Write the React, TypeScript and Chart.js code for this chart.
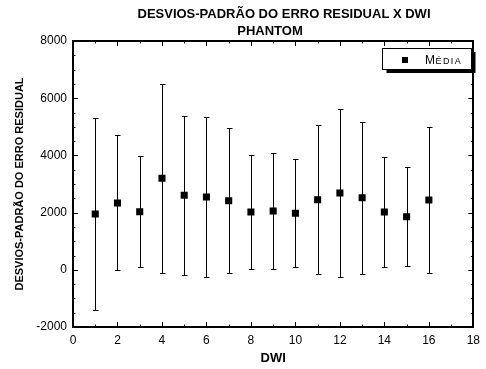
import React, { useEffect, useRef } from "react";
import { Chart, registerables } from "chart.js";

Chart.register(...registerables);

const titleLines = ["DESVIOS-PADRÃO DO ERRO RESIDUAL X DWI", "PHANTOM"];
const xTitle = "DWI";
const yTitle = "DESVIOS-PADRÃO DO ERRO RESIDUAL";
const seriesLabel = "MÉDIA";

const dwi = [1, 2, 3, 4, 5, 6, 7, 8, 9, 10, 11, 12, 13, 14, 15, 16];
const means = [1951, 2336, 2032, 3199, 2604, 2545, 2417, 2021, 2056, 1975, 2451, 2685, 2521, 2021, 1857, 2440];
const sds = [3374, 2360, 1946, 3304, 2780, 2790, 2546, 1999, 2011, 1882, 2600, 2937, 2664, 1935, 1724, 2542];

const xMin = 0;
const xMax = 18;
const xStep = 2;
const xMinor = 1;
const yMin = -2000;
const yMax = 8000;
const yStep = 2000;
const yMinor = 500;

const FONT = "'Liberation Sans', Arial, Helvetica, sans-serif";

const errorBarPlugin = {
  id: "errorBars",
  beforeDatasetsDraw(chart: any) {
    const { ctx, scales } = chart;
    const xs = scales.x;
    const ys = scales.y;
    ctx.save();
    ctx.strokeStyle = "#000";
    ctx.lineWidth = 1;
    dwi.forEach((d, i) => {
      const px = Math.round(xs.getPixelForValue(d)) + 0.5;
      const pTop = Math.round(ys.getPixelForValue(means[i] + sds[i])) + 0.5;
      const pBot = Math.round(ys.getPixelForValue(means[i] - sds[i])) + 0.5;
      ctx.beginPath();
      ctx.moveTo(px, pTop);
      ctx.lineTo(px, pBot);
      ctx.moveTo(px - 2.5, pTop);
      ctx.lineTo(px + 3, pTop);
      ctx.moveTo(px - 2.5, pBot);
      ctx.lineTo(px + 3, pBot);
      ctx.stroke();
    });
    ctx.restore();
  },
};

const framePlugin = {
  id: "frame",
  afterDraw(chart: any) {
    const { ctx, chartArea, scales } = chart;
    const { left, right, top, bottom } = chartArea;
    const xs = scales.x;
    const ys = scales.y;
    ctx.save();
    ctx.strokeStyle = "#000";
    ctx.lineWidth = 1;
    ctx.beginPath();
    for (let v = xMin; v <= xMax; v += xMinor) {
      const px = Math.round(xs.getPixelForValue(v)) + 0.5;
      const len = v % xStep === 0 ? 5 : 2.5;
      ctx.moveTo(px, bottom);
      ctx.lineTo(px, bottom - len);
      ctx.moveTo(px, top);
      ctx.lineTo(px, top + len);
    }
    for (let v = yMin; v <= yMax; v += yMinor) {
      const py = Math.round(ys.getPixelForValue(v)) + 0.5;
      const len = v % yStep === 0 ? 5 : 2.5;
      ctx.moveTo(left, py);
      ctx.lineTo(left + len, py);
      ctx.moveTo(right, py);
      ctx.lineTo(right - len, py);
    }
    ctx.stroke();
    ctx.lineWidth = 2;
    ctx.strokeRect(Math.round(left), Math.round(top), Math.round(right - left), Math.round(bottom - top));

    // legend
    const lx = 382;
    const ly = 48;
    const lw = 89;
    const lh = 21;
    ctx.fillStyle = "#000";
    ctx.fillRect(lx + 4.5, ly + 4, lw, lh);
    ctx.fillStyle = "#fff";
    ctx.fillRect(lx, ly, lw, lh);
    ctx.lineWidth = 1;
    ctx.strokeStyle = "#000";
    ctx.strokeRect(lx + 0.5, ly + 0.5, lw, lh);
    ctx.fillStyle = "#000";
    ctx.fillRect(lx + 20, ly + 9, 6, 6);
    const label = chart.data.datasets[0].label as string;
    ctx.textBaseline = "alphabetic";
    ctx.textAlign = "left";
    ctx.font = `12px ${FONT}`;
    const first = label.charAt(0);
    ctx.fillText(first, lx + 43, ly + 15.5);
    const w1 = ctx.measureText(first).width;
    ctx.font = `9px ${FONT}`;
    (ctx as any).letterSpacing = "1.4px";
    ctx.fillText(label.slice(1), lx + 43 + w1 + 0.5, ly + 15.5);
    (ctx as any).letterSpacing = "0px";

    // title
    ctx.font = `bold 13px ${FONT}`;
    ctx.textAlign = "center";
    ctx.textBaseline = "middle";
    ctx.fillText(titleLines[0], 284, 14.5);
    ctx.fillText(titleLines[1], 270, 31);
    ctx.restore();
  },
};

export default function App() {
  const ref = useRef<HTMLCanvasElement | null>(null);
  useEffect(() => {
    if (!ref.current) return;
    const chart = new Chart(ref.current, {
      type: "scatter",
      data: {
        datasets: [
          {
            label: seriesLabel,
            data: dwi.map((d, i) => ({ x: d, y: means[i] })),
            pointStyle: "rect",
            pointRadius: 5,
            pointHoverRadius: 5,
            backgroundColor: "#000",
            borderColor: "#000",
            borderWidth: 0,
            showLine: false,
          },
        ],
      },
      options: {
        responsive: false,
        animation: false,
        events: [],
        layout: { padding: { left: 0, right: 8, top: 41, bottom: 0 } },
        plugins: {
          legend: { display: false },
          title: { display: false },
          tooltip: { enabled: false },
        },
        scales: {
          x: {
            type: "linear",
            min: xMin,
            max: xMax,
            grid: { display: false, drawTicks: false },
            border: { display: false },
            ticks: {
              stepSize: xStep,
              color: "#000",
              padding: 6,
              maxRotation: 0,
              font: { family: FONT, size: 12 },
              callback: (v: any) => String(v),
            },
            title: {
              display: true,
              text: xTitle,
              color: "#000",
              font: { family: FONT, size: 13, weight: "bold" },
              padding: { top: 0, bottom: 3 },
            },
            afterFit: (s: any) => {
              s.height = 42;
            },
          },
          y: {
            type: "linear",
            min: yMin,
            max: yMax,
            grid: { display: false, drawTicks: false },
            border: { display: false },
            ticks: {
              stepSize: yStep,
              color: "#000",
              padding: 6,
              font: { family: FONT, size: 12 },
              callback: (v: any) => String(v),
            },
            title: {
              display: true,
              text: yTitle,
              color: "#000",
              font: { family: FONT, size: 11, weight: "bold" },
              padding: { top: 13, bottom: 0 },
            },
            afterFit: (s: any) => {
              s.width = 73;
            },
          },
        },
      },
      plugins: [errorBarPlugin, framePlugin],
    });
    return () => chart.destroy();
  }, []);
  return (
    <div style={{ position: "fixed", left: 0, top: 0, width: 486, height: 369, background: "#fff" }}>
      <canvas ref={ref} width={486} height={369} style={{ display: "block" }} />
    </div>
  );
}
